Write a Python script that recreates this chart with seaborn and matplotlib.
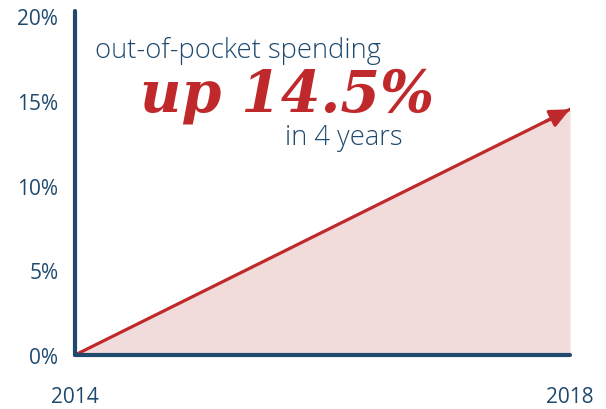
import pandas as pd
import matplotlib
matplotlib.use('Agg')
import matplotlib.pyplot as plt
import seaborn as sns

years = [2014, 2018]
spending = [0.0, 14.5]
y_ticks = [0, 5, 10, 15, 20]
y_labels = ['0%', '5%', '10%', '15%', '20%']
x_labels = ['2014', '2018']

navy = '#1f4a6e'
red = '#c0292b'
fill = '#f2dcdb'

sns.set_style('white')
plt.rcParams['font.family'] = ['Open Sans', 'DejaVu Sans']

df = pd.DataFrame({'Ano': years, 'Valor': spending})

fig = plt.figure(figsize=(6.06, 4.10), dpi=100)
ax = fig.add_axes([75 / 606, 54 / 410, 495 / 606, 344 / 410])

ax.fill_between(df['Ano'], df['Valor'], 0, color=fill, lw=0, zorder=1)
sns.lineplot(data=df, x='Ano', y='Valor', ax=ax, color=red, lw=2.3, zorder=3)
# ponta da seta
ax.annotate('', xy=(years[1], spending[1]), xytext=(years[1] - 0.2, spending[1] - 0.725),
            arrowprops=dict(arrowstyle='-|>,head_length=1.2,head_width=0.55',
                            color=red, lw=2.3, shrinkA=0, shrinkB=0), zorder=4)

ax.set_xlim(2014, 2018)
ax.set_ylim(0, 20.3)
ax.set_xticks(years)
ax.set_xticklabels(x_labels)
ax.set_yticks(y_ticks)
ax.set_yticklabels(y_labels)
ax.set_xlabel('')
ax.set_ylabel('')
ax.tick_params(axis='both', length=0, labelsize=15, colors=navy)
ax.tick_params(axis='x', pad=22)
ax.tick_params(axis='y', pad=12)

for s in ['top', 'right']:
    ax.spines[s].set_visible(False)
for s in ['left', 'bottom']:
    ax.spines[s].set_color(navy)
    ax.spines[s].set_linewidth(3)
    ax.spines[s].set_capstyle('round')
    ax.spines[s].set_zorder(5)

fig.text(95 / 606, 1 - 58 / 410, 'out-of-pocket spending', color=navy, fontsize=19.7,
         weight='light', va='baseline', ha='left')
fig.text(140 / 606, 1 - 112 / 410, 'up 14.5%', color=red, fontsize=41,
         family=['DejaVu Serif'], weight='bold', style='italic', va='baseline', ha='left')
fig.text(285 / 606, 1 - 145 / 410, 'in 4 years', color=navy, fontsize=19.7,
         weight='light', va='baseline', ha='left')

fig.savefig('out.png', dpi=100)
